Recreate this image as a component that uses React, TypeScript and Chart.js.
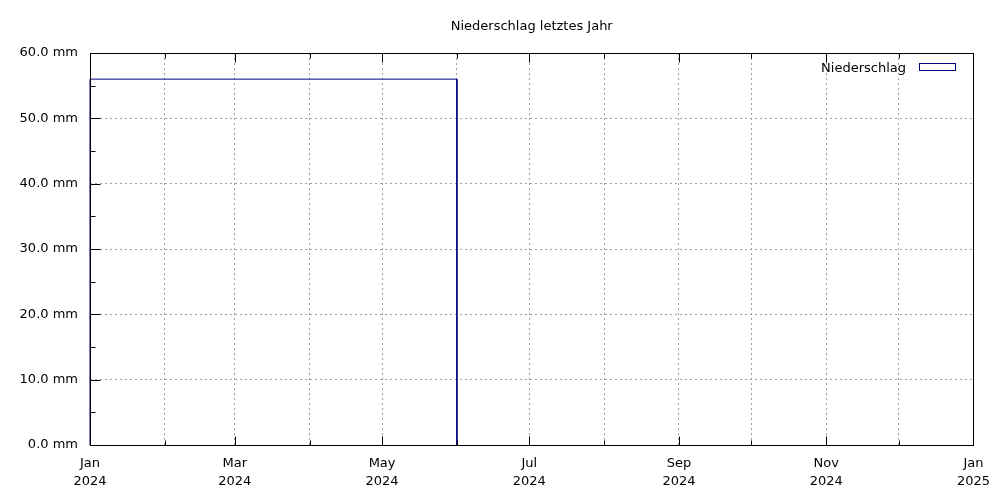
import React, { useEffect, useRef } from "react";
import { Chart, registerables } from "chart.js";

Chart.register(...registerables);

// ---- data ----
const seriesLabel = "Niederschlag";
const titleText = "Niederschlag letztes Jahr";
const periodStarts = ["2024-01-01"];
const periodEnds = ["2024-06-01"];
const periodValues = [56.0];
const monthNames = ["Jan", "Feb", "Mar", "Apr", "May", "Jun", "Jul", "Aug", "Sep", "Oct", "Nov", "Dec"];
const tickMonths = ["2024-01-01", "2024-02-01", "2024-03-01", "2024-04-01", "2024-05-01", "2024-06-01", "2024-07-01", "2024-08-01", "2024-09-01", "2024-10-01", "2024-11-01", "2024-12-01", "2025-01-01"];
const yMin = 0;
const yMax = 60;
const yStep = 10;
const yMinorStep = 5;

const ORIGIN = Date.UTC(2024, 0, 1);
const dayOf = (s: string) => {
  const [y, m, d] = s.split("-").map(Number);
  return Math.round((Date.UTC(y, m - 1, d) - ORIGIN) / 86400000);
};
const tickDays = tickMonths.map(dayOf);
const tickIsMajor = tickMonths.map((s) => Number(s.split("-")[1]) % 2 === 1);
const tickLabel = (i: number): string[] | string => {
  if (!tickIsMajor[i]) return "";
  const [y, m] = tickMonths[i].split("-").map(Number);
  return [monthNames[m - 1], String(y)];
};

const FONT = "'DejaVu Sans', sans-serif";
const FSIZE = 13;
const NAVY = "#000080";

const framePlugin = {
  id: "gnuFrame",
  afterDraw(chart: any) {
    const { ctx, chartArea } = chart;
    const xs = chart.scales.x;
    const ys = chart.scales.y;
    const L = Math.round(chartArea.left) + 0.5;
    const R = Math.round(chartArea.right) + 0.5;
    const T = Math.round(chartArea.top) + 0.5;
    const B = Math.round(chartArea.bottom) + 0.5;
    ctx.save();
    ctx.strokeStyle = "#000";
    ctx.lineWidth = 1;
    ctx.setLineDash([]);
    ctx.beginPath();
    // x ticks bottom & top (inward)
    tickDays.forEach((d, i) => {
      const px = Math.round(xs.getPixelForValue(d)) + 0.5;
      const len = tickIsMajor[i] ? 9 : 5;
      ctx.moveTo(px, B);
      ctx.lineTo(px, B - len);
      ctx.moveTo(px, T);
      ctx.lineTo(px, T + len);
    });
    // y ticks left (inward)
    for (let v = yMin; v <= yMax + 1e-9; v += yMinorStep) {
      const py = Math.round(ys.getPixelForValue(v)) + 0.5;
      const len = Math.abs(v % yStep) < 1e-9 ? 10 : 5;
      ctx.moveTo(L, py);
      ctx.lineTo(L + len, py);
    }
    ctx.stroke();
    ctx.strokeRect(L, T, R - L, B - T);

    // title
    ctx.fillStyle = "#000";
    ctx.font = `${FSIZE}px ${FONT}`;
    ctx.textAlign = "center";
    ctx.textBaseline = "middle";
    ctx.fillText(titleText, (chartArea.left + chartArea.right) / 2, 27);

    // legend
    ctx.textAlign = "right";
    ctx.fillText(seriesLabel, 906, 68.5);
    ctx.strokeStyle = NAVY;
    ctx.strokeRect(919.5, 63.5, 36, 7);
    ctx.restore();
  },
};

export default function App() {
  const ref = useRef<HTMLCanvasElement | null>(null);
  useEffect(() => {
    document.body.style.margin = "0";
    const points: { x: number; y: number }[] = [];
    periodValues.forEach((v, i) => {
      const a = dayOf(periodStarts[i]);
      const b = dayOf(periodEnds[i]);
      points.push({ x: a, y: 0 }, { x: a, y: v }, { x: b, y: v }, { x: b, y: 0 });
    });
    const xMax = tickDays[tickDays.length - 1];
    const gridColor = (edgeCheck: (v: number) => boolean) => (c: any) =>
      c.tick && edgeCheck(c.tick.value) ? "rgba(0,0,0,0)" : "#a0a0a0";
    const chart = new Chart(ref.current!, {
      type: "line",
      data: {
        datasets: [
          {
            label: seriesLabel,
            data: points,
            borderColor: NAVY,
            borderWidth: 1,
            pointRadius: 0,
            fill: false,
            tension: 0,
            clip: false as any,
          },
        ],
      },
      plugins: [framePlugin],
      options: {
        responsive: false,
        animation: false,
        devicePixelRatio: 1,
        layout: { padding: { top: 53, right: 26, left: 0, bottom: 0 } },
        plugins: { legend: { display: false }, title: { display: false }, tooltip: { enabled: false } },
        scales: {
          x: {
            type: "linear",
            min: 0,
            max: xMax,
            afterBuildTicks: (scale: any) => {
              scale.ticks = tickDays.map((d) => ({ value: d }));
            },
            afterFit: (scale: any) => {
              scale.height = 55;
            },
            ticks: {
              autoSkip: false,
              maxRotation: 0,
              padding: 10,
              color: "#000",
              font: { family: FONT, size: FSIZE, lineHeight: 1.38 },
              callback: (_v: any, i: number) => tickLabel(i),
            },
            grid: {
              drawTicks: false,
              lineWidth: 1,
              color: gridColor((v) => v === 0 || v === xMax),
            },
            border: { display: false, dash: [2, 3] },
          },
          y: {
            type: "linear",
            min: yMin,
            max: yMax,
            afterFit: (scale: any) => {
              scale.width = 90;
            },
            ticks: {
              stepSize: yStep,
              padding: 12,
              color: "#000",
              font: { family: FONT, size: FSIZE },
              callback: (v: any) => `${Number(v).toFixed(1)} mm`,
            },
            grid: {
              drawTicks: false,
              lineWidth: 1,
              color: gridColor((v) => v === yMin || v === yMax),
            },
            border: { display: false, dash: [2, 3] },
          },
        },
      } as any,
    });
    return () => chart.destroy();
  }, []);
  return <canvas ref={ref} width={1000} height={500} style={{ display: "block" }} />;
}
